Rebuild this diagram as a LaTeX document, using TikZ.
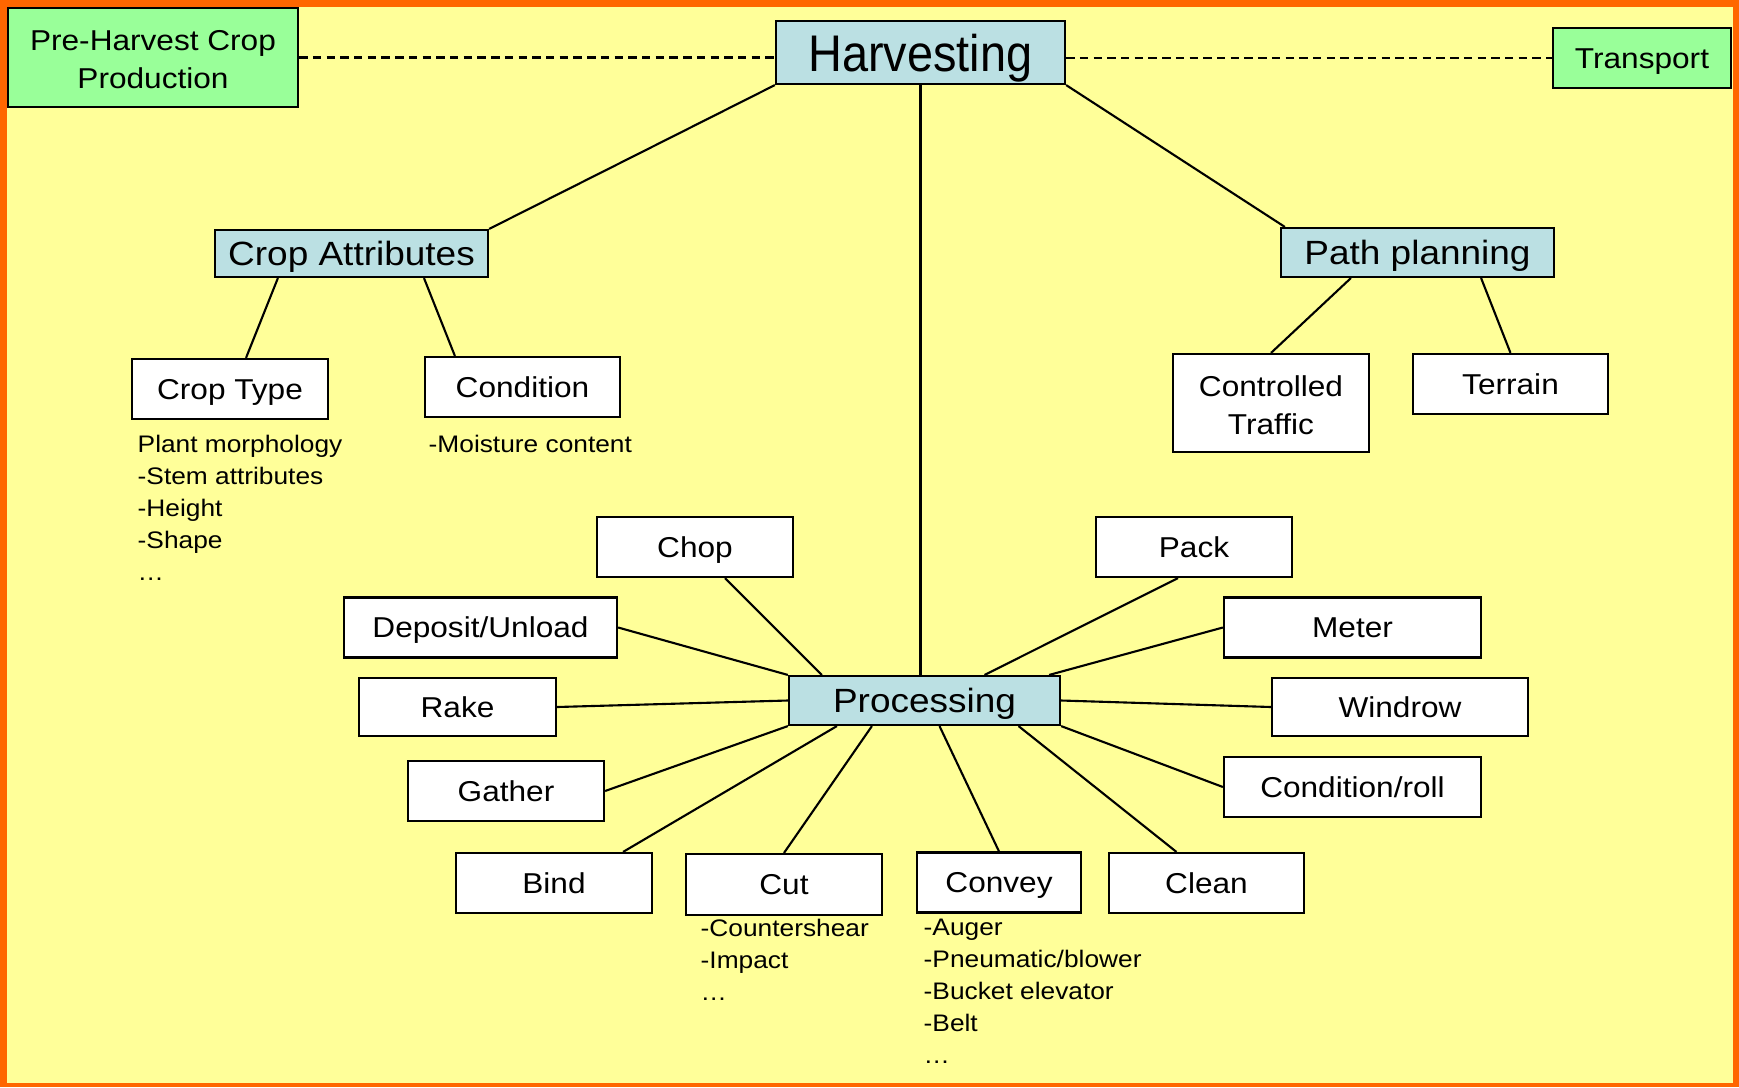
\documentclass[tikz,border=0pt]{standalone}
\usepackage{fontspec}
\setmainfont{Liberation Sans}[FakeStretch=1.1]
\newfontfamily\harvfamily{Liberation Sans}[FakeStretch=0.91]
\usepackage{tikz}

\definecolor{frameorange}{HTML}{FF6600}
\definecolor{slideyellow}{HTML}{FFFF99}
\definecolor{stagegreen}{HTML}{99FF99}
\definecolor{topicblue}{HTML}{BBE0E3}

\newcommand\boxfont{\fontsize{8.17}{10.8}\selectfont}
\newcommand\bluefont{\fontsize{9.56}{11.5}\selectfont}
\newcommand\notefont{\fontsize{6.8}{9.1}\selectfont}
\newcommand\harvfont{\harvfamily\fontsize{14.65}{17}\selectfont}

\tikzset{
  cell/.style={draw=black,line width=0.6pt,fill=white,inner sep=0pt,align=center,
    minimum width=1.96cm,minimum height=0.6cm,font=\boxfont},
  wbox/.style={cell,text height=5.88pt,text depth=0pt},
  gbox/.style={cell,fill=stagegreen},
  bbox/.style={cell,fill=topicblue,minimum height=0.48cm,font=\bluefont,
    text height=6.88pt,text depth=0pt},
  note/.style={anchor=north west,inner sep=0pt,align=left,font=\notefont},
  link/.style={line width=0.6pt},
  side/.style={line width=0.6pt,dash pattern=on 2.4pt off 1.5pt}
}

\begin{document}
\begin{tikzpicture}[x=0.01cm,y=-0.01cm]
\fill[frameorange] (0,0) rectangle (1739,1087);
\fill[slideyellow] (7,7) rectangle (1733,1083);

% top row
\node (pre)[gbox,minimum width=2.90cm,minimum height=0.99cm] at (153,57.5) {\rule{0pt}{7pt}Pre-Harvest Crop\\Production};
\node (harv)[bbox,minimum width=2.89cm,minimum height=0.63cm,font=\harvfont,text height=10.55pt] at (920.5,52.5) {Harvesting};
\node (trans)[gbox,minimum width=1.78cm,text height=5.88pt,text depth=0pt] at (1642,58) {Transport};
\draw[side] (pre.east) -- (pre.east -| harv.west);
\draw[side] (harv.east |- trans.west) -- (trans.west);

% crop attributes
\node (cattr)[bbox,minimum width=2.73cm,minimum height=0.47cm] at (351.5,253.5) {Crop Attributes};
\node (ctype)[wbox] at (230,389) {Crop Type};
\node (cond)[wbox,minimum width=1.95cm] at (522.5,387) {Condition};
\node (ctypenote)[note] at (137,434) {Plant morphology\\-Stem attributes\\-Height\\-Shape\\\ldots};
\node (condnote)[note] at (428,434) {-Moisture content};
\draw[link] (harv.south west) -- (cattr.north east);
\draw[link] ([xshift=0.64cm]cattr.south west) -- ([xshift=0.16cm]ctype.north);
\draw[link] ([xshift=2.10cm]cattr.south west) -- ([xshift=0.31cm]cond.north west);

% path planning
\node (path)[bbox,minimum width=2.73cm,minimum height=0.49cm] at (1417.5,252.5) {Path planning};
\node (ctrl)[cell,minimum height=0.98cm] at (1271,403) {\rule{0pt}{7pt}Controlled\\Traffic};
\node (terr)[wbox,minimum width=1.95cm] at (1510.5,384) {Terrain};
\draw[link] (harv.south east) -- ([xshift=0.05cm]path.north west);
\draw[link] ([xshift=0.71cm]path.south west) -- (ctrl.north);
\draw[link] ([xshift=-0.74cm]path.south east) -- (terr.north);

% processing
\node (proc)[bbox,minimum width=2.71cm,minimum height=0.49cm] at (924.5,700.5) {Processing};
\node (chop)[wbox] at (695,547) {Chop};
\node (depo)[wbox,minimum width=2.73cm] at (480.5,627.5) {Deposit/Unload};
\node (rake)[wbox,minimum width=1.97cm,minimum height=0.58cm] at (457.5,707) {Rake};
\node (gath)[wbox] at (506,791) {Gather};
\node (bind)[wbox] at (554,883) {Bind};
\node (cut)[wbox,minimum height=0.61cm] at (784,884.5) {Cut};
\node (conv)[wbox,minimum width=1.64cm] at (999,882.5) {Convey};
\node (clean)[wbox,minimum width=1.95cm] at (1206.5,883) {Clean};
\node (croll)[wbox,minimum width=2.57cm] at (1352.5,787) {Condition/roll};
\node (windr)[wbox,minimum width=2.56cm,minimum height=0.58cm] at (1400,707) {Windrow};
\node (meter)[wbox,minimum width=2.57cm] at (1352.5,627.5) {Meter};
\node (pack)[wbox] at (1194,547) {Pack};
\node (cutnote)[note] at (700,918) {-Countershear\\-Impact\\\ldots};
\node (convnote)[note] at (923,918) {-Auger\\-Pneumatic/blower\\-Bucket elevator\\-Belt\\\ldots};

\draw[link] (harv.south) -- (harv.south |- proc.north);
\draw[link] ([xshift=0.30cm]chop.south) -- ([xshift=0.34cm]proc.north west);
\draw[link] (depo.east) -- (proc.north west);
\draw[link] (rake.east) -- (proc.west);
\draw[link] (gath.east) -- (proc.south west);
\draw[link] ([xshift=0.69cm]bind.north) -- ([xshift=0.49cm]proc.south west);
\draw[link] (cut.north) -- ([xshift=0.84cm]proc.south west);
\draw[link] (conv.north) -- ([xshift=0.15cm]proc.south);
\draw[link] ([xshift=-0.30cm]clean.north) -- ([xshift=0.94cm]proc.south);
\draw[link] (croll.west) -- (proc.south east);
\draw[link] (windr.west) -- (proc.east);
\draw[link] (meter.west) -- ([xshift=-0.12cm]proc.north east);
\draw[link] ([xshift=-0.16cm]pack.south) -- ([xshift=0.60cm]proc.north);
\end{tikzpicture}
\end{document}
